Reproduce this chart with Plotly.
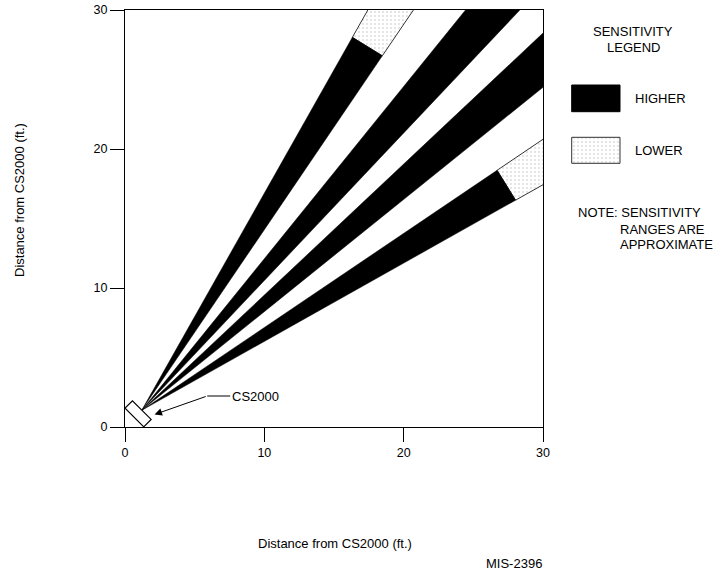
import math
import plotly.graph_objects as go

# ---------------- data ----------------
x_ticks = [0, 10, 20, 30]
y_ticks = [0, 10, 20, 30]
axis_range = [0, 30]

apex = [1.2, 1.2]                       # beam origin (ft)
wedge_start_deg = [55.9, 46.7, 38.9, 29.4]
wedge_end_deg = [60.6, 51.1, 43.3, 34.1]
high_radius = [30.8, 60.0, 60.0, 30.8]  # extent of HIGHER sensitivity (ft)
outer_radius = 60.0                     # extent of LOWER sensitivity (clipped)

sensor_center = [0.94, 0.95]
sensor_len = 1.9
sensor_wid = 0.75
sensor_angle_deg = -45

arrow_tip = [2.12, 0.9]
arrow_tail = [5.9, 2.23]
label_x = 7.7

legend_labels = ["HIGHER", "LOWER"]

FONT = "Liberation Sans, Arial, sans-serif"
W, H = 726, 586
DOTS = dict(shape=".", size=4, solidity=0.1, fgcolor="#777", bgcolor="white")


def px(x):
    return x / W


def py(y):
    return 1 - y / H


def pol(r, a):
    return apex[0] + r * math.cos(math.radians(a)), apex[1] + r * math.sin(math.radians(a))


fig = go.Figure()

# lower-sensitivity (dotted) parts
for a0, a1, rh in zip(wedge_start_deg, wedge_end_deg, high_radius):
    if rh >= outer_radius:
        continue
    pts = [pol(rh, a0), pol(outer_radius, a0), pol(outer_radius, a1), pol(rh, a1), pol(rh, a0)]
    fig.add_trace(go.Scatter(
        x=[p[0] for p in pts], y=[p[1] for p in pts], mode="lines", fill="toself",
        line=dict(color="#333", width=1), fillcolor="white", fillpattern=DOTS,
        hoverinfo="skip", showlegend=False))

# higher-sensitivity (black) parts
for a0, a1, rh in zip(wedge_start_deg, wedge_end_deg, high_radius):
    pts = [tuple(apex), pol(rh, a0), pol(rh, a1), tuple(apex)]
    fig.add_trace(go.Scatter(
        x=[p[0] for p in pts], y=[p[1] for p in pts], mode="lines", fill="toself",
        line=dict(color="black", width=0.5), fillcolor="black",
        hoverinfo="skip", showlegend=False))

# sensor box
ang = math.radians(sensor_angle_deg)
ux, uy = math.cos(ang), math.sin(ang)
vx, vy = -uy, ux
hl, hw = sensor_len / 2, sensor_wid / 2
corners = []
for sl, sw in [(-1, -1), (1, -1), (1, 1), (-1, 1), (-1, -1)]:
    corners.append((sensor_center[0] + sl * hl * ux + sw * hw * vx,
                    sensor_center[1] + sl * hl * uy + sw * hw * vy))
fig.add_trace(go.Scatter(
    x=[c[0] for c in corners], y=[c[1] for c in corners], mode="lines", fill="toself",
    fillcolor="white", line=dict(color="black", width=1.2),
    hoverinfo="skip", showlegend=False))

# legend boxes on a full-figure pixel axis
leg_boxes = [(571.7, 620, 85, 111.7), (571.7, 620, 137.3, 163.3)]
for lab, (x0, x1, y0, y1) in zip(legend_labels, leg_boxes):
    kw = dict(fillcolor="black", line=dict(color="black", width=1))
    if lab == "LOWER":
        kw = dict(fillcolor="white", line=dict(color="#333", width=1), fillpattern=DOTS)
    fig.add_trace(go.Scatter(
        x=[x0, x1, x1, x0, x0], y=[y0, y0, y1, y1, y0], mode="lines", fill="toself",
        xaxis="x2", yaxis="y2", hoverinfo="skip", showlegend=False, **kw))

axis_common = dict(
    range=axis_range, showgrid=False, zeroline=False, showline=True, linecolor="black",
    linewidth=1, mirror=True, ticks="outside", ticklen=14, tickwidth=1, tickcolor="black",
    tickfont=dict(family=FONT, size=12.5, color="black"), fixedrange=True, automargin=False)

fig.update_layout(
    width=W, height=H, autosize=False,
    margin=dict(l=0, r=0, t=0, b=0, pad=0),
    paper_bgcolor="white", plot_bgcolor="rgba(0,0,0,0)",
    showlegend=False,
    font=dict(family=FONT, size=13, color="black"),
    xaxis=dict(domain=[px(125), px(543)], tickvals=x_ticks, anchor="y", **axis_common),
    yaxis=dict(domain=[py(427), py(10)], tickvals=y_ticks, anchor="x", **axis_common),
    xaxis2=dict(domain=[0, 1], range=[0, W], visible=False, fixedrange=True,
                anchor="y2", automargin=False),
    yaxis2=dict(domain=[0, 1], range=[H, 0], visible=False, fixedrange=True,
                anchor="x2", automargin=False),
)

ann = []
ann.append(dict(x=arrow_tip[0], y=arrow_tip[1], ax=arrow_tail[0], ay=arrow_tail[1],
                xref="x", yref="y", axref="x", ayref="y", text="", showarrow=True,
                arrowhead=2, arrowsize=1.5, arrowwidth=1, arrowcolor="black"))
ann.append(dict(x=label_x, y=arrow_tail[1], xref="x", yref="y", text="CS2000",
                showarrow=False, xanchor="left", yanchor="middle", xshift=-2))
fig.add_shape(type="line", x0=arrow_tail[0], y0=arrow_tail[1], x1=label_x - 0.15, y1=arrow_tail[1],
              xref="x", yref="y", line=dict(color="black", width=1))

ann.append(dict(x=px(334.7), y=py(543.3), xref="paper", yref="paper", text="Distance from CS2000 (ft.)",
                showarrow=False, xanchor="center", yanchor="middle"))
ann.append(dict(x=px(20), y=py(200), xref="paper", yref="paper", text="Distance from CS2000 (ft.)",
                showarrow=False, xanchor="center", yanchor="middle", textangle=-90))
ann.append(dict(x=px(544), y=py(563.3), xref="paper", yref="paper", text="MIS-2396",
                showarrow=False, xanchor="right", yanchor="middle"))
ann.append(dict(x=px(633.3), y=py(31.7), xref="paper", yref="paper", text="SENSITIVITY",
                showarrow=False, xanchor="center", yanchor="middle"))
ann.append(dict(x=px(633.3), y=py(47.5), xref="paper", yref="paper", text="LEGEND",
                showarrow=False, xanchor="center", yanchor="middle"))
ann.append(dict(x=px(633.3), y=py(98.3), xref="paper", yref="paper", text=legend_labels[0],
                showarrow=False, xanchor="left", yanchor="middle"))
ann.append(dict(x=px(633.3), y=py(150.8), xref="paper", yref="paper", text=legend_labels[1],
                showarrow=False, xanchor="left", yanchor="middle"))
ann.append(dict(x=px(576), y=py(213), xref="paper", yref="paper", text="NOTE: SENSITIVITY",
                showarrow=False, xanchor="left", yanchor="middle"))
ann.append(dict(x=px(618.3), y=py(229.2), xref="paper", yref="paper", text="RANGES ARE",
                showarrow=False, xanchor="left", yanchor="middle"))
ann.append(dict(x=px(618.3), y=py(244.5), xref="paper", yref="paper", text="APPROXIMATE",
                showarrow=False, xanchor="left", yanchor="middle"))
fig.update_layout(annotations=ann)

fig.write_html("out.html", config={"displayModeBar": False, "staticPlot": True},
               post_script="document.body.style.margin='0px';document.body.style.overflow='hidden';")
